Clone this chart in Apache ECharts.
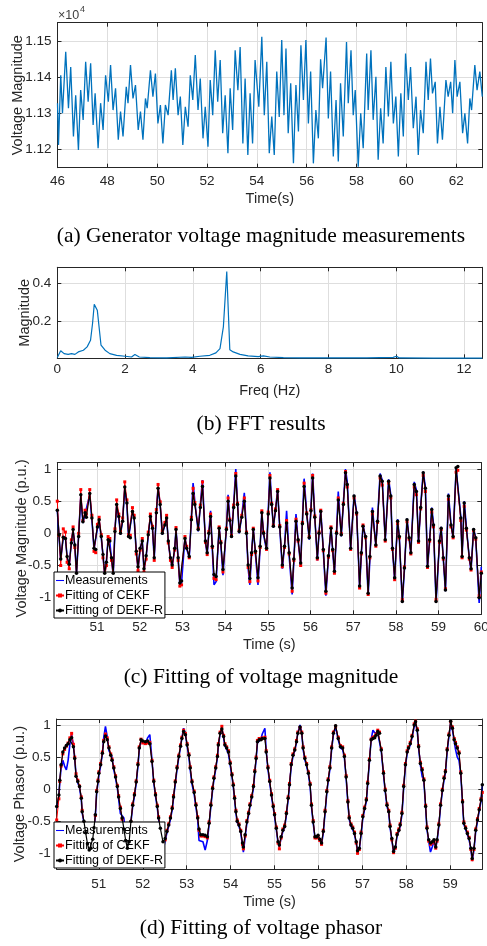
<!DOCTYPE html>
<html>
<head>
<meta charset="utf-8">
<title>Voltage fitting</title>
<script src="https://cdn.jsdelivr.net/npm/echarts/dist/echarts.min.js"></script>
<style>
  html, body { margin: 0; padding: 0; background: #fff; }
  #main { width: 487px; height: 946px; }
</style>
</head>
<body>
<div id="main"></div>
<script>
// (a) generator voltage magnitude, peaks and troughs
var timeA = [
  46.00,46.04,46.13,46.20,46.33,46.44,46.53,46.64,46.73,46.84,
  46.93,47.03,47.13,47.23,47.33,47.43,47.51,47.63,47.73,47.83,
  47.93,48.04,48.13,48.23,48.33,48.44,48.53,48.63,48.76,48.83,
  48.93,49.03,49.13,49.24,49.33,49.43,49.53,49.60,49.73,49.83,
  49.93,50.03,50.13,50.23,50.33,50.44,50.57,50.64,50.73,50.84,
  50.93,51.03,51.13,51.24,51.33,51.43,51.53,51.64,51.73,51.84,
  51.93,52.04,52.13,52.23,52.33,52.43,52.53,52.63,52.73,52.84,
  52.93,53.03,53.13,53.24,53.33,53.44,53.53,53.64,53.73,53.83,
  53.93,54.08,54.20,54.30,54.40,54.50,54.60,54.70,54.80,54.90,
  55.00,55.09,55.17,55.26,55.36,55.47,55.57,55.67,55.77,55.87,
  55.97,56.07,56.16,56.27,56.37,56.47,56.56,56.64,56.78,56.87,
  56.96,57.07,57.18,57.27,57.36,57.47,57.60,57.67,57.78,57.87,
  57.95,58.07,58.17,58.27,58.41,58.47,58.58,58.67,58.78,58.87,
  58.97,59.07,59.18,59.28,59.38,59.48,59.58,59.68,59.78,59.88,
  59.97,60.08,60.17,60.28,60.39,60.48,60.57,60.68,60.79,60.88,
  60.97,61.05,61.16,61.25,61.35,61.45,61.59,61.68,61.78,61.86,
  61.95,62.04,62.15,62.26,62.35,62.46,62.55,62.62,62.75,62.84,
  62.95,63.05
];
var voltA = [
  11328,11213,11405,11300,11470,11314,11428,11236,11350,11199,
  11364,11282,11442,11332,11438,11268,11355,11204,11328,11254,
  11405,11332,11433,11309,11369,11227,11305,11236,11373,11328,
  11433,11341,11378,11254,11305,11227,11341,11314,11419,11346,
  11410,11272,11323,11217,11323,11295,11419,11337,11424,11295,
  11346,11213,11318,11263,11405,11337,11461,11309,11396,11231,
  11318,11208,11392,11295,11474,11332,11447,11245,11350,11190,
  11369,11254,11474,11364,11483,11217,11396,11185,11355,11217,
  11447,11318,11511,11295,11442,11190,11291,11185,11415,11290,
  11502,11295,11479,11245,11383,11162,11378,11250,11488,11337,
  11502,11272,11415,11162,11309,11231,11449,11369,11509,11286,
  11415,11181,11337,11167,11383,11236,11497,11328,11474,11295,
  11364,11153,11300,11204,11465,11309,11474,11282,11401,11172,
  11314,11217,11428,11291,11442,11272,11346,11181,11355,11236,
  11465,11337,11428,11259,11346,11185,11309,11245,11442,11337,
  11451,11355,11387,11217,11318,11227,11392,11346,11387,11300,
  11447,11346,11387,11245,11300,11217,11341,11309,11433,11364,
  11415,11346
];

// (b) FFT
var freqB = [0,0.1,0.2,0.32,0.42,0.52,0.62,0.77,0.88,0.98,
  1.04,1.09,1.18,1.29,1.41,1.55,1.75,2.0,2.19,2.29,
  2.42,2.73,3.23,3.77,3.96,4.21,4.5,4.68,4.8,4.9,
  5.0,5.09,5.19,5.39,5.63,5.93,6.08,6.27,6.67,7.16,
  8.14,9.13,9.91,10.01,10.09,11.1,12.54];
var magB = [0.004,0.04,0.025,0.021,0.025,0.021,0.034,0.043,0.061,0.096,
  0.186,0.288,0.257,0.07,0.043,0.025,0.016,0.011,0.007,0.02,
  0.007,0.004,0.002,0.007,0.005,0.011,0.016,0.029,0.052,0.168,
  0.463,0.046,0.034,0.021,0.013,0.009,0.013,0.007,0.004,0.002,
  0.002,0.002,0.005,0.011,0.002,0.001,0.001];

// (c) voltage magnitude fitting
var timeC = [
  50.07,50.11,50.15,50.21,50.26,50.30,50.35,50.40,50.44,50.48,
  50.52,50.57,50.62,50.67,50.72,50.75,50.83,50.88,50.93,50.97,
  51.01,51.05,51.10,51.14,51.18,51.22,51.26,51.30,51.34,51.38,
  51.42,51.46,51.51,51.55,51.60,51.65,51.70,51.74,51.78,51.83,
  51.87,51.92,51.96,52.01,52.06,52.10,52.15,52.20,52.25,52.30,
  52.34,52.39,52.43,52.48,52.53,52.59,52.63,52.67,52.72,52.76,
  52.82,52.85,52.90,52.94,52.98,53.06,53.10,53.16,53.21,53.25,
  53.29,53.37,53.42,53.47,53.54,53.58,53.62,53.66,53.70,53.74,
  53.79,53.86,53.90,53.95,54.03,54.07,54.11,54.15,54.20,54.25,
  54.29,54.33,54.39,54.45,54.50,54.54,54.58,54.62,54.66,54.71,
  54.77,54.82,54.86,54.90,54.97,55.01,55.05,55.09,55.13,55.18,
  55.23,55.28,55.34,55.39,55.44,55.50,55.57,55.61,55.66,55.71,
  55.77,55.81,55.85,55.91,55.97,56.01,56.05,56.10,56.16,56.20,
  56.24,56.30,56.36,56.42,56.48,56.52,56.56,56.61,56.65,56.72,
  56.77,56.82,56.86,56.94,57.02,57.08,57.15,57.19,57.23,57.29,
  57.35,57.39,57.45,57.53,57.57,57.63,57.68,57.75,57.83,57.88,
  57.92,57.97,58.04,58.08,58.15,58.20,58.26,58.31,58.35,58.43,
  58.48,58.53,58.58,58.64,58.69,58.74,58.79,58.84,58.88,58.94,
  59.02,59.06,59.11,59.16,59.23,59.29,59.34,59.41,59.45,59.52,
  59.55,59.60,59.65,59.72,59.76,59.82,59.87,59.95,60.00
];
var measC = [
  0.36,-0.05,-0.42,-0.05,-0.06,-0.38,-0.50,-0.12,0.05,-0.20,
  -0.64,-0.02,0.58,0.16,0.30,0.27,0.60,0.22,-0.25,-0.27,
  0.08,0.20,-0.07,-0.35,-0.65,-0.43,-0.08,-0.14,-0.40,-0.65,
  0.05,0.43,0.24,-0.02,0.20,0.70,0.45,-0.07,-0.05,0.36,
  0.22,-0.30,-0.55,-0.25,-0.10,-0.58,-0.37,-0.04,0.27,0.06,
  -0.40,0.34,0.72,0.43,-0.02,0.14,0.25,-0.14,-0.40,-0.52,
  -0.25,0.07,-0.40,-0.80,-0.76,-0.06,-0.24,-0.38,0.25,0.78,
  0.50,0.03,0.45,0.83,-0.15,-0.33,0.02,0.35,-0.25,-0.80,
  -0.75,0.10,-0.18,-0.65,0.08,0.60,0.22,-0.07,0.45,1.00,
  0.48,0.00,0.28,0.63,0.02,-0.55,-0.80,-0.32,0.08,-0.32,
  -0.80,-0.22,0.34,-0.02,-0.26,0.35,0.95,0.48,0.09,0.37,
  0.68,0.08,-0.55,-0.22,0.35,-0.35,-0.95,-0.44,0.30,-0.12,
  -0.50,0.18,0.85,0.33,-0.10,0.38,0.93,0.27,-0.42,0.02,
  0.37,-0.28,-0.97,-0.38,0.10,-0.28,-0.63,0.03,0.65,-0.05,
  0.48,1.00,0.80,-0.26,0.60,0.33,-0.85,-0.33,0.14,-0.08,
  -0.97,-0.40,0.40,-0.20,0.22,0.93,0.83,-0.12,0.84,0.60,
  -0.25,-0.72,0.22,-0.07,-1.08,-0.56,0.23,-0.09,-0.32,0.80,
  0.67,-0.14,0.42,0.96,0.72,-0.54,-0.12,0.40,0.15,-1.08,
  -0.14,0.10,-0.40,-0.90,0.62,0.15,-0.08,1.00,1.02,0.26,
  -0.38,0.50,0.10,-0.40,-0.58,0.08,-0.09,-1.08,-0.52
];
var cekfC = [
  0.50,-0.03,-0.50,0.07,0.02,-0.45,-0.55,-0.10,0.10,-0.22,
  -0.66,0.00,0.68,0.20,0.36,0.30,0.68,0.28,-0.28,-0.30,
  0.14,0.25,-0.02,-0.38,-0.68,-0.50,-0.05,-0.08,-0.42,-0.68,
  0.07,0.52,0.30,0.03,0.24,0.80,0.52,-0.02,-0.03,0.40,
  0.28,-0.32,-0.58,-0.26,-0.08,-0.60,-0.40,0.02,0.30,0.11,
  -0.42,0.37,0.76,0.49,0.04,0.17,0.28,-0.15,-0.42,-0.53,
  -0.26,0.09,-0.42,-0.82,-0.80,-0.05,-0.20,-0.38,0.25,0.70,
  0.48,0.08,0.44,0.80,-0.14,-0.33,0.03,0.30,-0.22,-0.70,
  -0.72,0.10,-0.13,-0.60,0.08,0.55,0.22,-0.03,0.44,0.93,
  0.47,0.05,0.28,0.55,0.02,-0.53,-0.75,-0.33,0.08,-0.30,
  -0.74,-0.22,0.35,0.02,-0.25,0.33,0.90,0.47,0.13,0.38,
  0.68,0.12,-0.52,-0.22,0.20,-0.32,-0.90,-0.42,0.22,-0.12,
  -0.50,0.17,0.78,0.32,-0.05,0.37,0.90,0.27,-0.40,0.02,
  0.36,-0.27,-0.93,-0.37,0.10,-0.27,-0.62,0.02,0.55,0.00,
  0.47,0.96,0.72,-0.25,0.55,0.30,-0.85,-0.32,0.13,-0.07,
  -0.95,-0.38,0.30,-0.20,0.17,0.86,0.75,-0.12,0.78,0.55,
  -0.25,-0.72,0.15,-0.07,-1.03,-0.52,0.18,-0.09,-0.32,0.72,
  0.60,-0.14,0.38,0.90,0.65,-0.53,-0.12,0.33,0.10,-1.03,
  -0.14,0.06,-0.40,-0.86,0.53,0.10,-0.07,0.95,0.98,0.20,
  -0.38,0.42,0.05,-0.40,-0.57,0.04,-0.09,-0.97,-0.60
];
var dekfC = [
  0.36,-0.02,-0.40,-0.06,-0.08,-0.36,-0.48,-0.15,0.06,-0.18,
  -0.62,-0.05,0.60,0.18,0.32,0.25,0.62,0.24,-0.23,-0.25,
  0.10,0.21,-0.05,-0.33,-0.62,-0.45,-0.10,-0.12,-0.38,-0.62,
  0.03,0.45,0.26,0.00,0.19,0.72,0.47,-0.05,-0.07,0.34,
  0.24,-0.28,-0.52,-0.23,-0.12,-0.55,-0.35,-0.02,0.26,0.08,
  -0.38,0.32,0.70,0.45,0.00,0.13,0.24,-0.12,-0.38,-0.49,
  -0.23,0.06,-0.38,-0.77,-0.74,-0.08,-0.23,-0.36,0.21,0.62,
  0.45,0.06,0.40,0.73,-0.12,-0.30,0.00,0.26,-0.20,-0.64,
  -0.67,0.08,-0.15,-0.56,0.06,0.50,0.20,-0.05,0.40,0.89,
  0.45,0.03,0.25,0.50,0.00,-0.49,-0.70,-0.30,0.06,-0.28,
  -0.69,-0.20,0.32,0.00,-0.23,0.30,0.86,0.45,0.11,0.35,
  0.65,0.10,-0.49,-0.20,0.16,-0.30,-0.85,-0.40,0.19,-0.10,
  -0.46,0.15,0.73,0.30,-0.07,0.35,0.86,0.25,-0.38,0.00,
  0.34,-0.25,-0.90,-0.35,0.08,-0.25,-0.59,0.00,0.52,-0.02,
  0.45,0.94,0.76,-0.23,0.58,0.32,-0.82,-0.30,0.11,-0.05,
  -0.93,-0.36,0.34,-0.18,0.19,0.89,0.81,-0.10,0.81,0.58,
  -0.23,-0.69,0.19,-0.05,-1.06,-0.54,0.21,-0.07,-0.30,0.76,
  0.65,-0.12,0.40,0.94,0.70,-0.51,-0.10,0.37,0.13,-1.06,
  -0.12,0.08,-0.38,-0.88,0.58,0.13,-0.05,1.02,1.04,0.24,
  -0.36,0.47,0.08,-0.38,-0.55,0.06,-0.07,-1.00,-0.62
];

// (d) voltage phasor fitting
var timeD = [
  50.04,50.09,50.11,50.14,50.18,50.22,50.26,50.30,50.34,50.38,
  50.42,50.45,50.48,50.52,50.56,50.60,50.62,50.66,50.70,50.74,
  50.78,50.82,50.86,50.89,50.92,50.95,50.98,51.00,51.04,51.08,
  51.11,51.15,51.19,51.23,51.27,51.30,51.34,51.38,51.42,51.45,
  51.49,51.53,51.57,51.61,51.65,51.69,51.73,51.77,51.81,51.85,
  51.89,51.92,51.96,52.00,52.06,52.11,52.16,52.21,52.25,52.29,
  52.33,52.36,52.40,52.46,52.51,52.55,52.59,52.63,52.67,52.70,
  52.74,52.78,52.82,52.86,52.89,52.93,52.97,53.01,53.05,53.08,
  53.12,53.17,53.21,53.25,53.28,53.32,53.37,53.42,53.47,53.51,
  53.55,53.59,53.62,53.66,53.70,53.72,53.76,53.80,53.84,53.87,
  53.91,53.95,53.99,54.03,54.06,54.09,54.12,54.15,54.19,54.23,
  54.27,54.29,54.33,54.37,54.41,54.44,54.48,54.52,54.55,54.58,
  54.61,54.65,54.69,54.72,54.78,54.81,54.85,54.89,54.93,54.97,
  55.00,55.04,55.08,55.11,55.15,55.19,55.23,55.27,55.31,55.34,
  55.38,55.42,55.46,55.50,55.53,55.58,55.62,55.65,55.69,55.73,
  55.77,55.81,55.84,55.88,55.92,55.96,55.99,56.03,56.07,56.11,
  56.15,56.19,56.22,56.26,56.30,56.34,56.39,56.45,56.50,56.55,
  56.59,56.63,56.67,56.70,56.74,56.78,56.82,56.86,56.89,56.93,
  56.97,57.01,57.05,57.09,57.12,57.16,57.20,57.24,57.28,57.31,
  57.35,57.39,57.43,57.48,57.52,57.56,57.60,57.63,57.67,57.71,
  57.75,57.79,57.83,57.86,57.90,57.94,57.98,58.02,58.05,58.09,
  58.13,58.18,58.21,58.25,58.28,58.32,58.36,58.40,58.44,58.47,
  58.51,58.55,58.59,58.63,58.67,58.70,58.74,58.78,58.82,58.86,
  58.89,58.93,58.97,59.01,59.05,59.09,59.12,59.16,59.20,59.24,
  59.28,59.31,59.35,59.39,59.43,59.47,59.50,59.54,59.58,59.62,
  59.66,59.70,59.73
];
var measD = [
  -0.30,-0.12,0.10,0.33,0.45,0.36,0.30,0.45,0.70,0.85,
  0.68,0.50,0.22,0.10,0.02,-0.16,-0.37,-0.52,-0.70,-0.87,
  -0.97,-0.94,-0.80,-0.62,-0.42,-0.06,0.10,0.22,0.36,0.55,
  0.80,0.98,0.82,0.60,0.58,0.50,0.30,0.17,0.02,-0.15,
  -0.38,-0.40,-0.45,-0.78,-0.93,-0.84,-0.52,-0.27,-0.11,0.09,
  0.36,0.62,0.75,0.73,0.70,0.80,0.85,0.45,0.10,-0.11,
  -0.29,-0.47,-0.63,-0.97,-0.80,-0.68,-0.58,-0.47,-0.32,-0.14,
  0.09,0.31,0.50,0.66,0.80,0.95,0.87,0.67,0.50,0.30,
  0.08,-0.08,-0.28,-0.48,-0.80,-0.82,-0.82,-0.95,-0.80,-0.55,
  -0.27,-0.01,0.15,0.31,0.50,0.67,0.86,0.95,0.80,0.67,
  0.62,0.55,0.38,0.20,0.04,-0.16,-0.37,-0.52,-0.58,-0.68,
  -0.88,-0.98,-0.75,-0.53,-0.40,-0.27,-0.14,0.02,0.25,0.46,
  0.72,0.75,0.78,0.86,0.95,0.60,0.31,0.10,-0.11,-0.29,
  -0.42,-0.63,-0.84,-0.90,-0.76,-0.66,-0.60,-0.40,-0.16,0.05,
  0.36,0.51,0.60,0.73,0.88,1.00,0.88,0.62,0.46,0.36,
  0.23,0.05,-0.27,-0.53,-0.76,-0.76,-0.74,-0.80,-0.86,-0.68,
  -0.37,-0.06,0.12,0.31,0.62,0.85,0.97,0.77,0.64,0.62,
  0.49,0.17,-0.22,-0.47,-0.58,-0.63,-0.71,-0.84,-0.98,-0.94,
  -0.71,-0.45,-0.32,-0.19,0.07,0.43,0.78,0.92,0.88,0.85,
  0.88,0.85,0.59,0.23,-0.04,-0.27,-0.37,-0.60,-0.79,-0.99,
  -0.92,-0.73,-0.66,-0.58,-0.40,0.02,0.36,0.56,0.62,0.69,
  0.80,0.98,1.03,0.90,0.64,0.38,0.20,0.12,-0.29,-0.63,
  -0.81,-0.98,-0.90,-0.81,-0.92,-0.81,-0.58,-0.27,-0.04,0.15,
  0.25,0.59,0.82,1.03,0.93,0.75,0.62,0.50,0.45,0.23,
  -0.22,-0.55,-0.63,-0.71,-0.79,-0.94,-1.12,-0.95,-0.66,-0.50,
  -0.34,-0.19,0.05
];
var cekfD = [
  -0.48,-0.15,0.12,0.36,0.55,0.62,0.67,0.72,0.80,0.87,
  0.70,0.50,0.24,0.14,0.05,-0.12,-0.33,-0.52,-0.70,-0.86,
  -0.96,-0.93,-0.79,-0.61,-0.41,-0.02,0.14,0.27,0.40,0.58,
  0.76,0.86,0.80,0.66,0.55,0.47,0.35,0.21,0.06,-0.10,
  -0.28,-0.47,-0.63,-0.81,-0.93,-0.83,-0.51,-0.23,-0.07,0.13,
  0.40,0.66,0.78,0.72,0.71,0.72,0.73,0.45,0.14,-0.07,
  -0.25,-0.43,-0.59,-0.84,-0.79,-0.64,-0.54,-0.43,-0.28,-0.10,
  0.13,0.35,0.53,0.69,0.81,0.92,0.87,0.71,0.55,0.35,
  0.13,-0.03,-0.23,-0.43,-0.64,-0.73,-0.73,-0.74,-0.76,-0.51,
  -0.23,0.03,0.19,0.35,0.53,0.71,0.89,0.98,0.84,0.71,
  0.66,0.60,0.42,0.24,0.08,-0.12,-0.33,-0.48,-0.54,-0.64,
  -0.86,-0.93,-0.73,-0.49,-0.36,-0.23,-0.10,0.06,0.29,0.50,
  0.76,0.79,0.78,0.80,0.81,0.60,0.35,0.14,-0.07,-0.25,
  -0.38,-0.59,-0.84,-0.93,-0.76,-0.62,-0.56,-0.36,-0.12,0.09,
  0.40,0.55,0.63,0.76,0.89,0.96,0.89,0.66,0.50,0.40,
  0.27,0.09,-0.23,-0.49,-0.76,-0.76,-0.74,-0.80,-0.86,-0.64,
  -0.33,-0.02,0.16,0.35,0.66,0.89,0.98,0.81,0.68,0.66,
  0.53,0.21,-0.18,-0.43,-0.54,-0.59,-0.67,-0.84,-1.00,-0.94,
  -0.67,-0.41,-0.28,-0.15,0.11,0.47,0.78,0.81,0.82,0.86,
  0.92,0.89,0.63,0.27,0.00,-0.23,-0.33,-0.56,-0.79,-0.99,
  -0.92,-0.69,-0.62,-0.54,-0.36,0.06,0.40,0.60,0.66,0.73,
  0.84,1.02,1.06,0.94,0.68,0.42,0.32,0.16,-0.25,-0.59,
  -0.81,-0.86,-0.84,-0.81,-0.92,-0.81,-0.54,-0.23,0.00,0.19,
  0.29,0.63,0.86,1.05,0.97,0.79,0.73,0.66,0.58,0.27,
  -0.18,-0.51,-0.59,-0.67,-0.75,-0.94,-1.10,-0.94,-0.62,-0.46,
  -0.30,-0.15,-0.05
];
var dekfD = [
  -0.27,-0.09,0.14,0.38,0.58,0.64,0.68,0.71,0.77,0.80,
  0.66,0.48,0.20,0.12,0.04,-0.14,-0.35,-0.50,-0.68,-0.85,
  -0.95,-0.92,-0.78,-0.60,-0.40,-0.04,0.12,0.25,0.38,0.56,
  0.74,0.83,0.77,0.64,0.53,0.45,0.33,0.19,0.04,-0.12,
  -0.30,-0.45,-0.62,-0.80,-0.92,-0.82,-0.50,-0.25,-0.09,0.11,
  0.38,0.64,0.77,0.75,0.74,0.75,0.71,0.43,0.12,-0.09,
  -0.27,-0.45,-0.61,-0.82,-0.77,-0.66,-0.56,-0.45,-0.30,-0.12,
  0.11,0.33,0.51,0.67,0.79,0.90,0.85,0.69,0.53,0.33,
  0.11,-0.05,-0.25,-0.45,-0.62,-0.71,-0.71,-0.72,-0.74,-0.53,
  -0.25,0.01,0.17,0.33,0.51,0.69,0.87,0.94,0.82,0.69,
  0.64,0.58,0.40,0.22,0.06,-0.14,-0.35,-0.50,-0.56,-0.66,
  -0.84,-0.90,-0.71,-0.51,-0.38,-0.25,-0.12,0.04,0.27,0.48,
  0.74,0.77,0.77,0.79,0.79,0.58,0.33,0.12,-0.09,-0.27,
  -0.40,-0.61,-0.82,-0.87,-0.74,-0.64,-0.58,-0.38,-0.14,0.07,
  0.38,0.53,0.61,0.74,0.87,0.97,0.87,0.64,0.48,0.38,
  0.25,0.07,-0.25,-0.51,-0.74,-0.74,-0.72,-0.78,-0.84,-0.66,
  -0.35,-0.04,0.14,0.33,0.64,0.87,0.99,0.79,0.66,0.64,
  0.51,0.19,-0.20,-0.45,-0.56,-0.61,-0.69,-0.82,-0.96,-0.92,
  -0.69,-0.43,-0.30,-0.17,0.09,0.45,0.77,0.79,0.80,0.84,
  0.90,0.87,0.61,0.25,-0.02,-0.25,-0.35,-0.58,-0.77,-0.97,
  -0.90,-0.71,-0.64,-0.56,-0.38,0.04,0.38,0.58,0.64,0.71,
  0.82,1.00,1.05,0.92,0.66,0.40,0.30,0.14,-0.27,-0.61,
  -0.79,-0.84,-0.82,-0.79,-0.90,-0.79,-0.56,-0.25,-0.02,0.17,
  0.27,0.61,0.84,1.06,0.95,0.77,0.71,0.64,0.56,0.25,
  -0.20,-0.53,-0.61,-0.69,-0.77,-0.92,-1.08,-0.92,-0.64,-0.48,
  -0.32,-0.17,0.07
];

// tick positions
var ticksAx = [46,48,50,52,54,56,58,60,62];
var ticksAy = [11200,11300,11400,11500];
var ticksBx = [0,2,4,6,8,10,12];
var ticksBy = [0.2,0.4];
var ticksCx = [51,52,53,54,55,56,57,58,59,60];
var ticksDx = [51,52,53,54,55,56,57,58,59];
var ticksPu = [-1,-0.5,0,0.5,1];

var seriesNames = ['Measurements', 'Fitting of CEKF', 'Fitting of DEKF-R'];

var AX = '#262626';
var GRIDC = '#dedede';
var SANS = '"Liberation Sans", Arial, Helvetica, sans-serif';
var SERIF = '"Liberation Serif", "Times New Roman", serif';

function pairs(xs, ys) {
  return xs.map(function (x, i) { return [x, ys[i]]; });
}

function makeX(gi, min, max, ticks, name, nameGap, margin) {
  var bottom = {
    type: 'value', gridIndex: gi, position: 'bottom', min: min, max: max,
    name: name, nameLocation: 'middle', nameGap: nameGap,
    nameTextStyle: { color: AX, fontSize: 14.5, fontFamily: SANS },
    axisLine: { show: true, onZero: false, lineStyle: { color: AX, width: 1 } },
    axisTick: { show: true, inside: true, length: 4, customValues: ticks, lineStyle: { color: AX } },
    axisLabel: { customValues: ticks, color: AX, fontSize: 13.5, fontFamily: SANS, margin: margin },
    splitLine: { show: true, lineStyle: { color: GRIDC, width: 1 } }
  };
  var top = {
    type: 'value', gridIndex: gi, position: 'top', min: min, max: max,
    axisLine: { show: true, onZero: false, lineStyle: { color: AX, width: 1 } },
    axisTick: { show: true, inside: true, length: 4, customValues: ticks, lineStyle: { color: AX } },
    axisLabel: { show: false },
    splitLine: { show: false }
  };
  return [bottom, top];
}

function makeY(gi, min, max, ticks, name, nameGap, fmt) {
  var left = {
    type: 'value', gridIndex: gi, position: 'left', min: min, max: max,
    name: name, nameLocation: 'middle', nameGap: nameGap, nameMoveOverlap: false,
    nameTextStyle: { color: AX, fontSize: 14.5, fontFamily: SANS },
    axisLine: { show: true, onZero: false, lineStyle: { color: AX, width: 1 } },
    axisTick: { show: true, inside: true, length: 4, customValues: ticks, lineStyle: { color: AX } },
    axisLabel: { customValues: ticks, color: AX, fontSize: 13.5, fontFamily: SANS, margin: 6, formatter: fmt },
    splitLine: { show: true, lineStyle: { color: GRIDC, width: 1 } }
  };
  var right = {
    type: 'value', gridIndex: gi, position: 'right', min: min, max: max,
    axisLine: { show: true, onZero: false, lineStyle: { color: AX, width: 1 } },
    axisTick: { show: true, inside: true, length: 4, customValues: ticks, lineStyle: { color: AX } },
    axisLabel: { show: false },
    splitLine: { show: false }
  };
  return [left, right];
}

function fitSeries(axisIdx, times, meas, cekf, dekf) {
  return [
    { type: 'line', name: seriesNames[0], xAxisIndex: axisIdx, yAxisIndex: axisIdx,
      data: pairs(times, meas), symbol: 'none', z: 2,
      lineStyle: { color: '#0000ff', width: 1.6 }, itemStyle: { color: '#0000ff' } },
    { type: 'line', name: seriesNames[1], xAxisIndex: axisIdx, yAxisIndex: axisIdx,
      data: pairs(times, cekf), symbol: 'rect', symbolSize: 3, showAllSymbol: true, z: 3,
      lineStyle: { color: '#ff0000', width: 1 }, itemStyle: { color: '#ff0000' } },
    { type: 'line', name: seriesNames[2], xAxisIndex: axisIdx, yAxisIndex: axisIdx,
      data: pairs(times, dekf), symbol: 'circle', symbolSize: 3.5, showAllSymbol: true, z: 4,
      lineStyle: { color: '#000000', width: 1.2 }, itemStyle: { color: '#000000' } }
  ];
}

function makeLegend(top) {
  return {
    data: [
      { name: seriesNames[0], icon: 'path://M0,0 L12,0 L12,1.6 L0,1.6 Z' },
      seriesNames[1],
      seriesNames[2]
    ],
    orient: 'vertical', left: 54, top: top,
    itemWidth: 8, itemHeight: 5, itemGap: 2,
    padding: [2, 2, 1, 1],
    backgroundColor: '#ffffff', borderColor: '#000000', borderWidth: 1, borderRadius: 0,
    selectedMode: false,
    textStyle: { color: '#000000', fontSize: 12.5, fontFamily: SANS, padding: [0, 0, 0, -4] }
  };
}

function caption(y, text) {
  return {
    type: 'text', x: 261, y: y,
    style: { text: text, font: '21.5px ' + SERIF, fill: '#000000',
      textAlign: 'center', textVerticalAlign: 'middle', align: 'center', verticalAlign: 'middle' }
  };
}

var chart = echarts.init(document.getElementById('main'), null, { renderer: 'canvas' });

var xAxes = [].concat(
  makeX(0, 46, 63.05, ticksAx, 'Time(s)', 24, 7),
  makeX(1, 0, 12.54, ticksBx, 'Freq (Hz)', 25, 4),
  makeX(2, 50.07, 60, ticksCx, 'Time (s)', 23, 6),
  makeX(3, 50.04, 59.73, ticksDx, 'Time (s)', 25, 8)
);
var yAxes = [].concat(
  makeY(0, 11150, 11550, ticksAy, 'Voltage Magnitude', 32, function (v) { return (v / 10000).toFixed(2); }),
  makeY(1, 0, 0.486, ticksBy, 'Magnitude', 25),
  makeY(2, -1.258, 1.098, ticksPu, 'Voltage Magnitude (p.u.)', 28),
  makeY(3, -1.249, 1.094, ticksPu, 'Voltage Phasor (p.u.)', 29)
);

var option = {
  animation: false,
  backgroundColor: '#ffffff',
  grid: [
    { left: 57.5, top: 22.7, width: 424.8, height: 145, outerBoundsMode: 'none' },
    { left: 57.3, top: 267.3, width: 425, height: 91, outerBoundsMode: 'none' },
    { left: 57.3, top: 462.7, width: 424, height: 151.6, outerBoundsMode: 'none' },
    { left: 56.7, top: 719, width: 425.6, height: 150.3, outerBoundsMode: 'none' }
  ],
  xAxis: xAxes,
  yAxis: yAxes,
  legend: [makeLegend(572), makeLegend(822)],
  graphic: [
    { type: 'text', x: 58, y: 9, style: { text: '\u00d710', font: '12.5px ' + SANS, fill: '#404040' } },
    { type: 'text', x: 80, y: 5, style: { text: '4', font: '9px ' + SANS, fill: '#404040' } },
    caption(236, '(a) Generator voltage magnitude measurements'),
    caption(424, '(b) FFT results'),
    caption(677, '(c) Fitting of voltage magnitude'),
    caption(928, '(d) Fitting of voltage phasor')
  ],
  series: [
    { type: 'line', name: 'Voltage', xAxisIndex: 0, yAxisIndex: 0, data: pairs(timeA, voltA),
      symbol: 'none', lineStyle: { color: '#0072BD', width: 1.3 } },
    { type: 'line', name: 'FFT', xAxisIndex: 2, yAxisIndex: 2, data: pairs(freqB, magB),
      symbol: 'none', lineStyle: { color: '#0072BD', width: 1.2 } }
  ].concat(
    fitSeries(4, timeC, measC, cekfC, dekfC),
    fitSeries(6, timeD, measD, cekfD, dekfD)
  )
};

chart.setOption(option);

window.addEventListener('resize', function () {
  chart.resize();
});
</script>
</body>
</html>
